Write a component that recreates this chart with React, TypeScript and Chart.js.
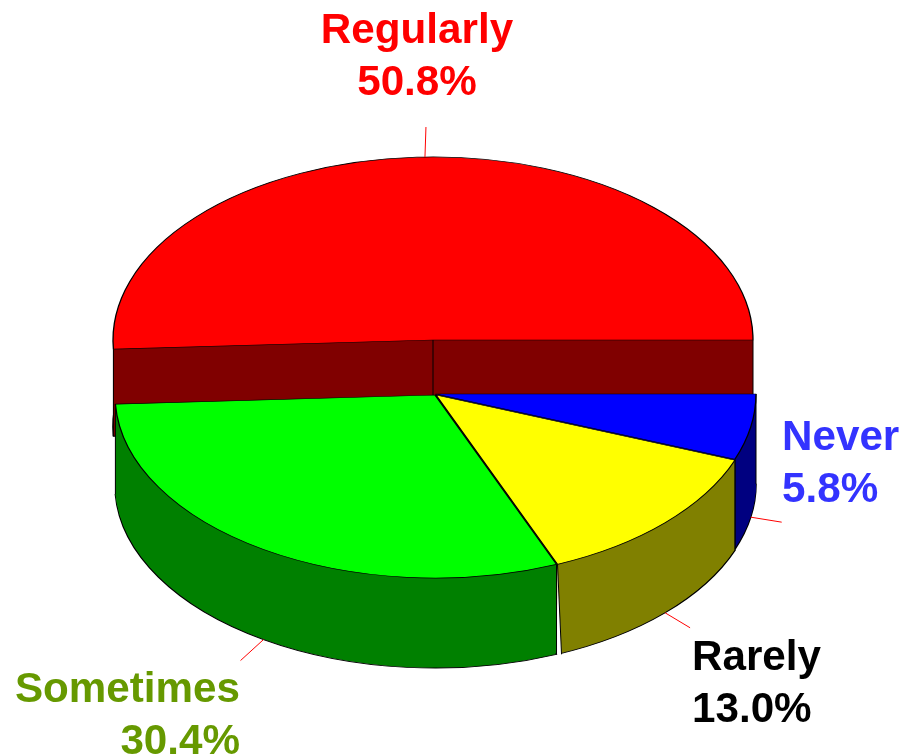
import React, { useEffect, useRef } from "react";
import { Chart, ArcElement, PieController } from "chart.js";

Chart.register(ArcElement, PieController);

const categories = ["Never", "Rarely", "Sometimes", "Regularly"];
const percentages = [5.8, 13.0, 30.4, 50.8];
const topColors = ["#0000ff", "#ffff00", "#00ff00", "#ff0000"];
const wallColors = ["#000080", "#808000", "#008000", "#800000"];
const labelColors = ["#3333ff", "#000000", "#669900", "#ff0000"];

const W = 903;
const H = 756;
const CX = 436;
const CY = 395;
const RADIUS = 320;
const TILT = 0.572;
const DEPTH = 90;
const sliceShiftX = [0, 0, -1, -3];
const sliceShiftY = [-1, 0, 0, -55];
const sliceDepth = [DEPTH, DEPTH, DEPTH, 87];
const wallNotch = [0, 4, 0, 0];
const drawOrder = [3, 0, 1, 2];
const leaderDX = [31, 25, -23, 1];
const leaderDY = [5, 15, 21, -30];
const labelX = [782, 692, 240, 417];
const labelY = [450, 670, 702, 43];
const labelAlign = ["left", "left", "right", "center"];
const LINE_GAP = 52;
const FONT = "bold 42.2px 'Liberation Sans', Arial, sans-serif";

function drawArc(ctx: any, el: any, fill: string, stroke: string, width: number) {
  const ghost = Object.create(el);
  ghost.options = {
    backgroundColor: fill,
    borderColor: stroke,
    borderWidth: width,
    borderAlign: "center",
    borderJoinStyle: "round",
    borderDash: [],
    borderDashOffset: 0,
    borderRadius: 0,
    offset: 0,
    spacing: 0,
    circular: true,
    angle: undefined,
  };
  ArcElement.prototype.draw.call(ghost, ctx);
}

function placed(ctx: any, el: any, dx: number, dy: number, paint: () => void) {
  ctx.save();
  ctx.translate(dx, el.y + dy);
  ctx.scale(1, TILT);
  ctx.translate(0, -el.y);
  paint();
  ctx.restore();
}

const pie3d = {
  id: "pie3d",
  beforeDatasetsDraw(chart: any) {
    const ctx = chart.ctx;
    const arcs = chart.getDatasetMeta(0).data;
    for (const i of drawOrder) {
      const el = arcs[i];
      const sx = sliceShiftX[i];
      const sy = sliceShiftY[i];
      const depth = sliceDepth[i];
      const notch = wallNotch[i];
      // side wall: the slice stacked downward, deepest layer outlined
      for (let d = depth; d > 0; d -= 1) {
        const outline = d === depth;
        placed(ctx, el, sx, sy + d, () =>
          drawArc(ctx, el, wallColors[i], outline ? "#000000" : wallColors[i], outline ? 1.6 : 0)
        );
      }
      // vertical creases at the slice's corners
      ctx.save();
      ctx.strokeStyle = "#000000";
      ctx.lineWidth = 1;
      const corners: [number, number][] = [[el.x, el.y]];
      for (const a of [el.startAngle, el.endAngle]) {
        corners.push([el.x + Math.cos(a) * el.outerRadius, el.y + Math.sin(a) * el.outerRadius * TILT]);
      }
      corners.forEach(([px, py], c) => {
        const x0 = px + sx;
        const y0 = py + sy;
        if (c === 2 && notch) {
          // a sliver of white between this wall and its neighbour
          ctx.fillStyle = "#ffffff";
          ctx.beginPath();
          ctx.moveTo(x0, y0);
          ctx.lineTo(x0 + notch, y0 + depth);
          ctx.lineTo(x0 + notch, y0 + depth + 3);
          ctx.lineTo(x0 - 1, y0 + depth + 3);
          ctx.closePath();
          ctx.fill();
        }
        ctx.beginPath();
        ctx.moveTo(x0, y0);
        ctx.lineTo(x0 + (c === 2 ? notch : 0), y0 + depth);
        ctx.stroke();
      });
      ctx.restore();
      placed(ctx, el, sx, sy, () => drawArc(ctx, el, topColors[i], "#000000", 1.3));
    }
    return false;
  },
  afterDraw(chart: any) {
    const ctx = chart.ctx;
    const arcs = chart.getDatasetMeta(0).data;
    ctx.save();
    arcs.forEach((el: any, i: number) => {
      const mid = (el.startAngle + el.endAngle) / 2;
      const onTop = Math.sin(mid) < 0;
      const px = el.x + sliceShiftX[i] + Math.cos(mid) * el.outerRadius;
      const py = el.y + sliceShiftY[i] + Math.sin(mid) * el.outerRadius * TILT + (onTop ? 0 : sliceDepth[i]);
      ctx.strokeStyle = "#ff0000";
      ctx.lineWidth = 1;
      ctx.beginPath();
      ctx.moveTo(px, py);
      ctx.lineTo(px + leaderDX[i], py + leaderDY[i]);
      ctx.stroke();
      ctx.font = FONT;
      ctx.fillStyle = labelColors[i];
      ctx.textAlign = labelAlign[i];
      ctx.textBaseline = "alphabetic";
      ctx.fillText(categories[i], labelX[i], labelY[i]);
      ctx.fillText(percentages[i].toFixed(1) + "%", labelX[i], labelY[i] + LINE_GAP);
    });
    ctx.restore();
  },
};

export default function App() {
  const ref = useRef<HTMLCanvasElement | null>(null);
  useEffect(() => {
    const chart = new Chart(ref.current as HTMLCanvasElement, {
      type: "pie",
      data: {
        labels: categories,
        datasets: [{ data: percentages, backgroundColor: topColors, borderColor: "#000000", borderWidth: 1 }],
      },
      options: {
        animation: false,
        responsive: false,
        rotation: 90,
        radius: RADIUS,
        layout: { padding: { left: 0, right: W - 2 * CX, top: 2 * CY - H + 6, bottom: 6 } },
        plugins: { legend: { display: false }, tooltip: { enabled: false } },
        events: [],
      },
      plugins: [pie3d],
    } as any);
    return () => chart.destroy();
  }, []);
  return (
    <div style={{ position: "absolute", left: 0, top: 0, width: W, height: H, background: "#ffffff" }}>
      <canvas ref={ref} width={W} height={H} style={{ display: "block", width: W, height: H }} />
    </div>
  );
}
